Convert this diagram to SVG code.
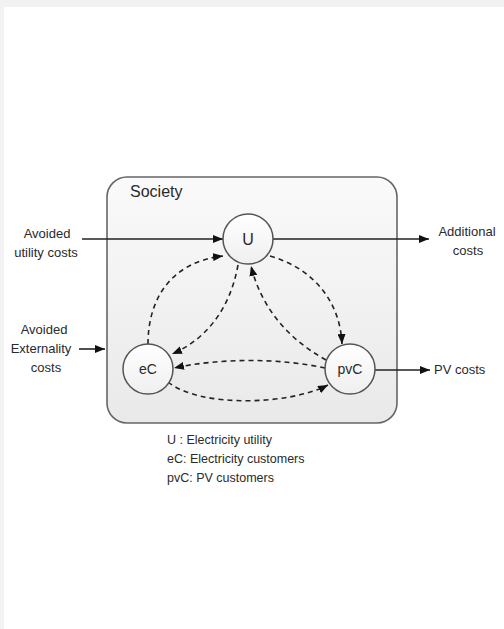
<svg xmlns="http://www.w3.org/2000/svg" width="504" height="629" viewBox="0 0 504 629">
<defs>
<style>
text{font-family:"Liberation Sans",Arial,sans-serif;fill:#2a2a2a}
.lbl{font-size:13px}
.leg{font-size:12.5px}
.node{stroke:#555;stroke-width:1.5;fill:url(#cg)}
.solid{fill:none;stroke:#222;stroke-width:1.6;marker-end:url(#ah)}
.dash{fill:none;stroke:#222;stroke-width:1.6;stroke-dasharray:5 4;marker-end:url(#ah)}
</style>
<linearGradient id="bg" x1="0" y1="0" x2="0" y2="1">
<stop offset="0" stop-color="#fafafa"/>
<stop offset="1" stop-color="#e9e9e9"/>
</linearGradient>
<linearGradient id="cg" x1="0" y1="0" x2="0" y2="1">
<stop offset="0" stop-color="#ffffff"/>
<stop offset="1" stop-color="#efefef"/>
</linearGradient>
<marker id="ah" viewBox="0 0 10 8" refX="10" refY="4" markerWidth="10" markerHeight="8" markerUnits="userSpaceOnUse" orient="auto">
<path d="M0,0 L10,4 L0,8 z" fill="#111"/>
</marker>
</defs>
<rect x="0" y="0" width="504" height="629" fill="#f2f2f2"/>
<rect x="4" y="7" width="500" height="622" fill="#ffffff"/>
<g id="society">
<rect x="107" y="177" width="290" height="246" rx="20" ry="20" fill="url(#bg)" stroke="#666" stroke-width="1.6"/>
<text x="130" y="197" font-size="16">Society</text>
</g>
<g id="connectors">
<path class="solid" d="M82,239 L223,239"/>
<path class="solid" d="M273,239 L429,239"/>
<path class="solid" d="M79,349 L105,349"/>
<path class="solid" d="M375,370 L430,370"/>
<path class="dash" d="M148,344 C148,300 170,262 223,256"/>
<path class="dash" d="M238,265 C230,310 205,340 172,354"/>
<path class="dash" d="M326,360 C290,340 262,310 251,266"/>
<path class="dash" d="M270,256 C312,268 340,300 342,344"/>
<path class="dash" d="M325,368 C280,358 220,358 174,368"/>
<path class="dash" d="M168,382 C200,408 290,405 328,385"/>
</g>
<g id="U">
<circle class="node" cx="248" cy="239" r="25"/>
<text x="248" y="245" font-size="16" text-anchor="middle">U</text>
</g>
<g id="eC">
<circle class="node" cx="148" cy="369" r="25"/>
<text x="148" y="374" font-size="14" text-anchor="middle">eC</text>
</g>
<g id="pvC">
<circle class="node" cx="350" cy="369" r="25"/>
<text x="350" y="374" font-size="14" text-anchor="middle">pvC</text>
</g>
<g id="labels">
<text class="lbl" x="47" y="238" text-anchor="middle">Avoided</text>
<text class="lbl" x="46" y="257" text-anchor="middle">utility costs</text>
<text class="lbl" x="467" y="236" text-anchor="middle">Additional</text>
<text class="lbl" x="468" y="255" text-anchor="middle">costs</text>
<text class="lbl" x="44" y="334" text-anchor="middle">Avoided</text>
<text class="lbl" x="41" y="353" text-anchor="middle">Externality</text>
<text class="lbl" x="46" y="372" text-anchor="middle">costs</text>
<text class="lbl" x="434" y="374">PV costs</text>
</g>
<g id="legend">
<text class="leg" x="167" y="444">U :  Electricity utility</text>
<text class="leg" x="167" y="463">eC: Electricity customers</text>
<text class="leg" x="167" y="482">pvC: PV customers</text>
</g>
</svg>
